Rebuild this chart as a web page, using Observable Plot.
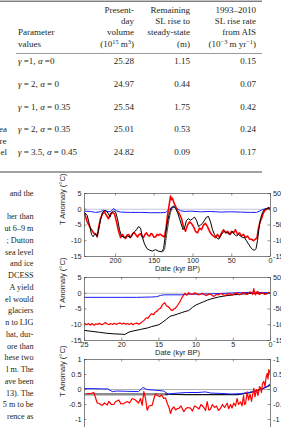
<!DOCTYPE html>
<html><head><meta charset="utf-8">
<script src="https://cdn.jsdelivr.net/npm/d3@7"></script>
<script src="https://cdn.jsdelivr.net/npm/@observablehq/plot@0.6"></script>
<style>
html,body{margin:0;padding:0;width:281px;height:427px;overflow:hidden;background:#fff;}
#page{position:relative;width:281px;height:427px;overflow:hidden;}
.chart{position:absolute;left:0;}
</style></head><body><div id="page"></div>
<script>
// ---------------- table data ----------------
const headParam = ["", "", "Parameter", "values"];
const headVolume = ["Present-", "day", "volume", "(10^{15} m^{3})"];
const headRemaining = ["Remaining", "SL rise to", "steady-state", "(m)"];
const headRate = ["1993–2010", "SL rise rate", "from AIS", "(10^{−3} m yr^{−1})"];
const tableParams = ["γ =1, α =0", "γ = 2, α = 0", "γ = 1, α = 0.35", "γ = 2, α = 0.35", "γ = 3.5, α = 0.45"];
const tableVolume = ["25.28", "24.97", "25.54", "25.01", "24.82"];
const tableRemaining = ["1.15", "0.44", "1.75", "0.53", "0.09"];
const tableRate = ["0.15", "0.07", "0.42", "0.24", "0.17"];
const tableLeftCut = ["", "", "", "ea", "el"];
const tableLeftCutExtra = "re";
// ---------------- body text (cut column) ----------------
const bodyLines = ["and the", "", "her than", "ut 6–9 m", "; Dutton", "sea level", "and ice", "DCESS", "A yield",
  "el would", "glaciers", "n to LIG", "hat, dur-", "ore than", "hese two", "l m. The", "ave been", "13). The",
  "5 m to be", "rence as"];
// ---------------- chart texts ----------------
const yAxisLabel = "T Anomaly (°C)";
const xAxisLabel = "Date (kyr BP)";
// panel 1 (0–240 kyr BP)
const p1XTicks = [200, 150, 100, 50, 0];
const p1YTicks = [5, 0, -5, -10, -15];
const p1RightLabels = ["500", "0", "-500", "-1000", "-1500"];
const p1Red = [[240,-1.3],[236.5,-4],[232.3,-6],[228,-7.6],[225.5,-7.9],[223.6,-8.8],[222,-6],[219.4,-3],[216.8,-1.5],[214.2,-0.8],[211.6,-2],[209,-3],[206.5,-1.5],[204,-1],[201.3,-1.5],[198.7,-4],[196,-7],[193.5,-9],[191,-8],[189,-8.8],[187,-9.3],[185,-8.2],[183,-8],[181,-9],[179.4,-8.5],[177.5,-7.6],[175.5,-7.5],[173.5,-8.2],[171.6,-8.8],[169.6,-8],[167.7,-7.8],[165.8,-8.6],[163.9,-9],[162,-8],[160,-7.5],[158,-8.3],[156,-8.5],[154,-7.7],[152.3,-8],[150.3,-8.9],[148.4,-8.8],[146.4,-8],[144.5,-8.3],[142.5,-7.9],[140.6,-8.2],[138.7,-8.6],[136.8,-8.8],[134.8,-6],[132.9,-2],[131,1],[129,4.2],[127.7,3],[126.5,3.5],[124.5,2],[122.6,1],[120,-0.5],[117.4,-1.5],[114.8,-3],[112.3,-5.5],[109.7,-7],[107,-5],[104.5,-4],[102,-4.5],[99.4,-5.5],[96.8,-7],[94.2,-7.5],[91.6,-6],[89,-6.5],[86.5,-5],[83.9,-4.5],[81.3,-5.5],[78.7,-7],[76,-8],[73.5,-8.5],[70.9,-9],[68.4,-8],[65.8,-9],[63.2,-7.5],[60.6,-6.5],[58,-7.5],[55.5,-7],[52.9,-8],[50.3,-7],[47.7,-7.5],[45.2,-6.5],[42.6,-8],[40,-7.5],[37.4,-8.5],[34.8,-8],[32.3,-9],[29.7,-8.5],[27.1,-9.5],[24.5,-9.5],[21.9,-10],[19.4,-9.5],[17.4,-9],[15.5,-6],[13.5,-4],[11.6,-3],[9.7,-1.5],[7.7,-0.5],[5.2,0],[2.6,0.5],[0,-0.3]];
const p1Black = [[240,-1],[236.5,-2],[233.5,-5],[231,-8],[229,-8.7],[227,-8],[225.8,-7.8],[223.9,-8.6],[222,-7],[219.4,-3.5],[216.8,-1],[214.2,-0.4],[211.6,-0.5],[209,-1.5],[207,-2.5],[205.2,-1.2],[202.6,-0.5],[200,-0.8],[197.4,-3],[194.8,-6.5],[192.3,-8.5],[188.4,-9],[184.5,-8.5],[180.6,-9],[176.8,-7.5],[172.9,-6.5],[170.3,-5.5],[167.7,-6],[165.2,-9],[162.6,-11],[159.4,-12.5],[156.1,-13],[152.3,-13.3],[148.4,-12.8],[144.5,-13.3],[140.6,-13.5],[138,-12.5],[135.5,-8],[132.9,-4],[130.3,-1],[127.7,0.5],[125.2,1],[122.6,0.3],[120,-1],[117.4,-3],[114.8,-5],[112.9,-6.5],[111,-6],[108.4,-3.5],[105.8,-3],[103.2,-3.5],[100.6,-3],[98,-2.5],[95.5,-3.5],[92.9,-5.5],[90.3,-5],[87.7,-4.5],[85.2,-3.5],[82.6,-2.5],[80,-2.3],[77.4,-4],[74.8,-6.5],[72.3,-8],[69.7,-9],[67.1,-9.5],[64.5,-8.5],[61.9,-7.5],[59.4,-7],[56.8,-7.5],[54.2,-7.5],[51.6,-8],[49,-7],[46.5,-8],[43.9,-8.5],[41.3,-8],[38.7,-8.5],[36.1,-9],[33.5,-9],[31,-10],[28.4,-11],[25.8,-12],[23.2,-12.8],[20.6,-13],[18.7,-12.5],[16.8,-10],[14.8,-6],[12.9,-3],[10.3,-1],[7.7,0],[3.9,0.3],[0,0.5]];
const p1BlackAlt = [[139,-13.5],[136.5,-12.5],[134,-8],[131.5,-4],[129,-1],[126.5,0.5],[124,1]];
const p1Blue = [[240,-0.6],[232.3,-0.7],[225.8,-1],[219.4,-0.8],[215.5,-0.3],[211.6,-0.7],[206.5,-0.8],[202.6,0.2],[198.7,-0.5],[193.5,-0.9],[180.6,-1],[167.7,-1],[154.8,-1.1],[141.9,-1.1],[135.5,-1],[131.6,-0.3],[127.7,0.6],[123.9,0.7],[120,0.2],[116.1,-0.5],[109.7,-0.7],[103.2,-0.6],[90.3,-0.8],[77.4,-0.7],[64.5,-0.9],[51.6,-0.8],[38.7,-0.9],[25.8,-1],[18,-1],[14.2,-0.6],[10.3,-0.1],[6.5,0.1],[0,0.2]];
// panel 2 (0–25 kyr BP)
const p2XTicks = [25, 20, 15, 10, 5, 0];
const p2YTicks = [5, 0, -5, -10, -15];
const p2RightLabels = ["500", "0", "-500", "-1000", "-1500"];
const p2Red = [[25,-9.5],[24.7,-10],[24.5,-9.6],[24.2,-10.1],[24,-9.6],[23.7,-10.2],[23.5,-9.7],[23.2,-9.9],[23,-9.5],[22.7,-10],[22.5,-9.8],[22.2,-9.3],[22,-9.7],[21.7,-10],[21.5,-9.6],[21.2,-9.9],[21,-9.5],[20.7,-9.9],[20.5,-9.6],[20.2,-9.4],[20,-9.8],[19.7,-9.5],[19.5,-9.8],[19.2,-9.6],[19,-9.9],[18.7,-9.5],[18.5,-10],[18.2,-9.6],[18,-9.5],[17.7,-9.8],[17.5,-9.5],[17.2,-9],[17,-8.6],[16.7,-7.8],[16.5,-8],[16.2,-7],[16,-6.5],[15.7,-6.8],[15.5,-6],[15.2,-5.6],[15,-5],[14.8,-4.8],[14.6,-4],[14.4,-3.3],[14.2,-3],[14,-4],[13.8,-4.2],[13.6,-4.6],[13.4,-5.2],[13.2,-5.5],[13,-5],[12.8,-4.8],[12.6,-4.2],[12.4,-3.5],[12.2,-2.8],[12.1,-2.3],[11.9,-1.4],[11.8,-1],[11.6,-0.4],[11.5,0],[11.3,-0.6],[11.2,-0.5],[11,0.2],[10.8,-0.3],[10.5,-0.3],[10.2,0.1],[10,0],[9.7,-0.5],[9.5,-0.4],[9.2,0],[9,-0.2],[8.7,-0.7],[8.5,-0.6],[8.2,-0.2],[8,-0.4],[7.8,-0.8],[7.6,-1],[7.3,-0.4],[7,-0.5],[6.7,-0.1],[6.5,-0.3],[6.2,-0.7],[6,-0.6],[5.7,-0.1],[5.5,-0.2],[5.2,-0.6],[5,-0.4],[4.7,0.1],[4.5,0],[4.2,-0.5],[4,-0.3],[3.7,0.2],[3.5,0.1],[3.2,-0.4],[3,-0.2],[2.8,0.4],[2.6,0.3],[2.4,-0.4],[2.25,1.5],[2.1,-0.3],[2,-0.5],[1.85,0.4],[1.7,0.6],[1.55,-0.4],[1.4,-0.3],[1.2,0.3],[1,0.1],[0.8,-0.4],[0.5,-0.2],[0.3,0.3],[0,0.2]];
const p2Black = [[25,-11.8],[24,-12.1],[23,-12.4],[22,-12.7],[21,-12.9],[20,-13],[19.6,-13.1],[19,-12.3],[18.5,-12],[17.5,-11.5],[16.5,-11],[16,-10.6],[15,-10],[14.5,-9.2],[14,-8.3],[13.5,-7.3],[13,-7],[12.5,-6.6],[12,-6.2],[11.5,-5.8],[11,-5.5],[10.5,-4.5],[10,-3.7],[9.5,-3.2],[9,-2.7],[8.5,-2.2],[8,-1.8],[7,-1.2],[6,-0.8],[5,-0.5],[4,-0.3],[3,-0.1],[2,0],[1,0],[0,0]];
const p2Blue = [[25,-1.3],[22,-1.3],[20,-1.3],[18,-1.3],[16,-1.2],[15.3,-1.1],[14.8,-0.7],[14.3,-0.5],[13,-0.5],[12,-0.5],[11,-0.3],[10,-0.3],[8,-0.2],[6,0],[4,0.2],[2,0.3],[1,0.2],[0,0.1]];
// panel 3 (last 2000 years)
const p3XTicks = [2000, 1600, 1200, 800, 400, 0];
const p3YTicks = [1, 0.5, 0, -0.5, -1];
const p3LeftLabels = ["1", "0.5", "0", "-0.5", "-1"];
const p3RightLabels = ["-1", "0.5", "0", "-0.5", "-1"];
const p3Red = [[1971,-0.14],[1943,-0.14],[1900,-0.1],[1863,-0.45],[1846,-0.46],[1810,-0.53],[1785,-0.45],[1756,-0.52],[1739,-0.4],[1710,-0.5],[1685,-0.5],[1667,-0.41],[1631,-0.35],[1608,-0.48],[1577,-0.47],[1541,-0.4],[1516,-0.45],[1487,-0.3],[1452,-0.35],[1419,-0.45],[1398,-0.3],[1380,-0.53],[1362,-0.07],[1344,-0.3],[1326,-0.69],[1306,-0.55],[1272,-0.52],[1253,-0.3],[1237,-0.15],[1215,-0.2],[1190,-0.24],[1172,-0.18],[1147,-0.3],[1129,-0.28],[1111,-0.46],[1091,-0.6],[1075,-0.8],[1059,-0.65],[1040,-0.58],[1021,-0.68],[1003,-0.64],[986,-0.63],[962,-0.55],[932,-0.74],[914,-0.65],[892,-0.6],[860,-0.62],[839,-0.72],[817,-0.55],[788,-0.6],[769,-0.65],[747,-0.5],[717,-0.6],[699,-0.7],[681,-0.4],[663,-0.69],[645,-0.65],[624,-0.5],[602,-0.6],[581,-0.55],[559,-0.7],[538,-0.63],[516,-0.5],[495,-0.6],[466,-0.46],[448,-0.64],[430,-0.5],[414,-0.62],[395,-0.45],[376,-0.55],[360,-0.3],[344,-0.5],[323,-0.41],[306,-0.55],[290,-0.2],[280,-0.5],[269,-0.48],[250,-0.08],[236,-0.35],[220,-0.15],[204,-0.4],[188,-0.1],[179,0.04],[167,-0.25],[151,0],[134,-0.2],[118,0.1],[108,0.06],[97,-0.1],[86,0.2],[72,0.27],[59,0.1],[48,0.4],[35,0.54],[27,0.35],[18,0.66],[8,0.6],[0,0.5]];
const p3Blue = [[2000,0.03],[1900,0.03],[1800,0.02],[1750,0.02],[1700,-0.07],[1650,-0.05],[1550,-0.06],[1420,-0.07],[1370,0.07],[1330,0],[1250,-0.02],[1150,-0.05],[1100,-0.15],[1000,-0.12],[900,-0.1],[780,-0.1],[700,-0.08],[640,-0.12],[540,-0.13],[420,-0.15],[320,-0.14],[200,-0.08],[90,0.02],[30,0.12],[0,0.2]];
const p3Black = [[1130,-0.16],[900,-0.17],[700,-0.17],[500,-0.17],[350,-0.17],[250,-0.12],[150,-0.05],[80,0.03],[30,0.1],[0,0.15]];
const p3Gray = [[1990,-0.16],[1700,-0.16],[1400,-0.16],[1110,-0.16]];

// ---------------- layout ----------------
const page = d3.select("#page");
const W = 281;
const ink = "#231f20";

// table + text as svg
const ts = page.append("svg").attr("width", W).attr("height", 427)
  .style("position", "absolute").style("left", "0px").style("top", "0px")
  .attr("font-family", "'Liberation Serif', 'Times New Roman', serif").attr("fill", ink);

function richText(g, str, fs) {
  // supports ^{...} superscripts and italic greek letters
  const parts = str.split(/(\^\{[^}]*\})/).filter(p => p);
  let pendingDy = 0;
  for (const p of parts) {
    const m = p.match(/^\^\{([^}]*)\}$/);
    if (m) {
      g.append("tspan").attr("dy", -fs * 0.35 + pendingDy).attr("font-size", fs * 0.7).text(m[1]);
      pendingDy = fs * 0.35;
    } else {
      for (const q of p.split(/([γα])/).filter(q => q)) {
        const t = g.append("tspan").text(q);
        if (pendingDy) { t.attr("dy", pendingDy); pendingDy = 0; }
        if (q === "γ" || q === "α") t.attr("font-style", "italic");
      }
    }
  }
}

const tfs = 9;
function tline(x, y, str, anchor, fs = tfs) {
  const t = ts.append("text").attr("x", x).attr("y", y + fs * 0.34).attr("font-size", fs).attr("text-anchor", anchor);
  richText(t, str, fs);
  return t;
}
// rules
ts.append("line").attr("x1", 0).attr("x2", 262).attr("y1", 1.2).attr("y2", 1.2).attr("stroke", "#444").attr("stroke-width", 1);
ts.append("line").attr("x1", 16).attr("x2", 262).attr("y1", 53.5).attr("y2", 53.5).attr("stroke", "#555").attr("stroke-width", 0.6);
ts.append("line").attr("x1", 0).attr("x2", 262).attr("y1", 172).attr("y2", 172).attr("stroke", "#444").attr("stroke-width", 1);
// headers
const headY0 = 9.5, headStep = 11.4;
[[headParam, 18, "start"], [headVolume, 134, "end"], [headRemaining, 190, "end"], [headRate, 256, "end"]].forEach(([lines, x, a]) => {
  lines.forEach((s, i) => { if (s) tline(x, headY0 + i * headStep, s, a); });
});
// rows
const rowY0 = 61, rowStep = 22.75;
tableParams.forEach((s, i) => {
  const y = rowY0 + i * rowStep;
  tline(18, y, s, "start");
  tline(134, y, tableVolume[i], "end");
  tline(190, y, tableRemaining[i], "end");
  tline(256, y, tableRate[i], "end");
  if (tableLeftCut[i]) tline(7, y, tableLeftCut[i], "end");
});
tline(6.5, rowY0 + 3 * rowStep + 11.3, tableLeftCutExtra, "end");

// body text column
const bfs = 8.2, bodyY0 = 193, bodyStep = 11.75;
bodyLines.forEach((s, i) => { if (s) tline(33.5, bodyY0 + i * bodyStep, s, "end", bfs); });

// ---------------- charts ----------------
const ML = 84, MR = 11, MT = 10, MB = 22;
const axisColor = "#4d4d4d";
function panel({top, xDomain, xTicks, yDomain, yTicks, leftLabels, rightLabels, plotH, zeroColor, zeroWidth, series}) {
  const plotW = W - ML - MR;
  const marks = [
    Plot.ruleY([0], {stroke: zeroColor, strokeWidth: zeroWidth}),
    ...series,
    Plot.frame({stroke: axisColor, strokeWidth: 0.7}),
    Plot.tickX(xTicks, {x: d => d, insetTop: plotH - 2.5, stroke: axisColor, strokeWidth: 0.6}),
    Plot.tickX(xTicks, {x: d => d, insetBottom: plotH - 2.5, stroke: axisColor, strokeWidth: 0.6}),
    Plot.tickY(yTicks, {y: d => d, insetRight: plotW - 2.5, stroke: axisColor, strokeWidth: 0.6}),
    Plot.tickY(yTicks, {y: d => d, insetLeft: plotW - 2.5, stroke: axisColor, strokeWidth: 0.6}),
    Plot.axisX({ticks: xTicks, tickSize: 0, tickPadding: 1, label: null, tickFormat: d => String(d), fontSize: 7.2}),
    Plot.axisY({ticks: yTicks, anchor: "left", tickSize: 0, tickPadding: 3, label: null,
      tickFormat: d => leftLabels[yTicks.indexOf(d)], fontSize: 7.3}),
    Plot.axisY({ticks: yTicks, anchor: "right", tickSize: 0, tickPadding: 2.5, label: null,
      tickFormat: d => rightLabels[yTicks.indexOf(d)], fontSize: 7.3}),
    Plot.text([yAxisLabel], {frameAnchor: "left", rotate: -90, dx: -22, fontSize: 7.6, fill: "#262626"}),
    Plot.text([xAxisLabel], {frameAnchor: "bottom", dy: 14, fontSize: 7.5, fill: "#262626"})
  ];
  const chart = Plot.plot({
    width: W, height: MT + plotH + MB,
    marginLeft: ML, marginRight: MR, marginTop: MT, marginBottom: MB,
    x: {domain: xDomain},
    y: {domain: yDomain},
    style: {background: "transparent", fontFamily: "'Liberation Sans', Arial, sans-serif", fontSize: "7.3px", color: "#262626", overflow: "visible"},
    marks
  });
  const div = page.append("div").attr("class", "chart").style("top", top + "px");
  div.node().appendChild(chart);
}
const L = (data, stroke, w, extra = {}) => Plot.line(data, {x: d => d[0], y: d => d[1], stroke, strokeWidth: w, clip: true, ...extra});

panel({
  top: 183, xDomain: [240, 0], xTicks: p1XTicks, yDomain: [-15, 5], yTicks: p1YTicks,
  leftLabels: p1YTicks.map(String), rightLabels: p1RightLabels, plotH: 63,
  zeroColor: "#c4c4dc", zeroWidth: 1.2,
  series: [
    L(p1Blue, "#1a1aff", 1),
    L(p1Red, "#ff0000", 1.6),
    L(p1Black, "#000", 1),
    L(p1BlackAlt, "#000", 0.8, {strokeDasharray: "1.5,1"})
  ]
});
panel({
  top: 267, xDomain: [25, 0], xTicks: p2XTicks, yDomain: [-15, 5], yTicks: p2YTicks,
  leftLabels: p2YTicks.map(String), rightLabels: p2RightLabels, plotH: 63,
  zeroColor: "#b0b0b0", zeroWidth: 0.8,
  series: [
    L(p2Black, "#000", 1),
    L(p2Blue, "#1a1aff", 1),
    L(p2Red, "#ff0000", 1.2)
  ]
});
panel({
  top: 349, xDomain: [2000, 0], xTicks: p3XTicks, yDomain: [-1.5, 1], yTicks: p3YTicks,
  leftLabels: p3LeftLabels, rightLabels: p3RightLabels, plotH: 75,
  zeroColor: "#a8a8a8", zeroWidth: 0.9,
  series: [
    L(p3Gray, "#8c8c8c", 2.6),
    L(p3Black, "#111", 1.1),
    L(p3Blue, "#1a1aff", 1),
    L(p3Red, "#ff0000", 1.2)
  ]
});
</script></body></html>
